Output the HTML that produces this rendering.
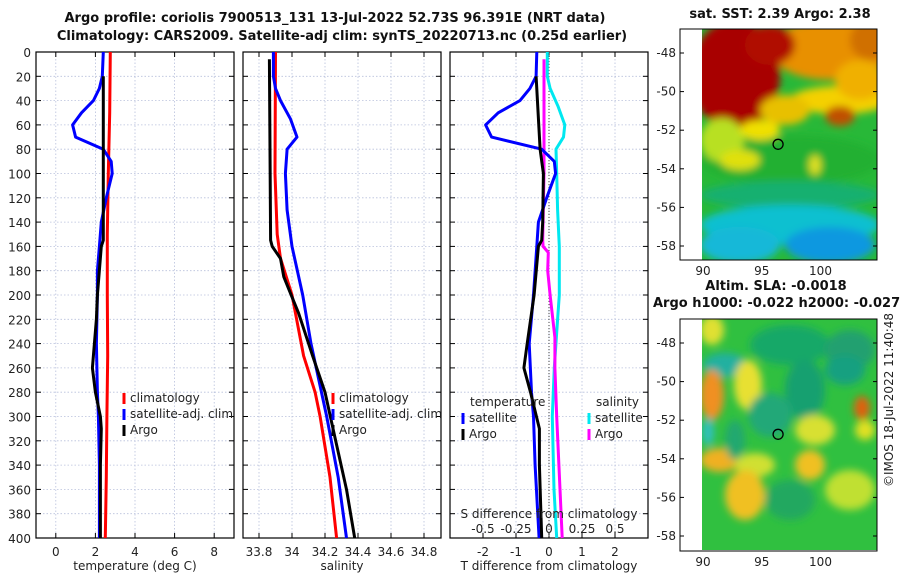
<!DOCTYPE html>
<html><head><meta charset="utf-8"><style>
body{margin:0;background:#fff}
svg{display:block;font-family:"DejaVu Sans","Liberation Sans",sans-serif}
.t{font-size:12px;fill:#222}
.b{font-size:13px;font-weight:bold;fill:#111}
</style></head><body>
<svg id="c" width="900" height="580" viewBox="0 0 900 580">
<defs>
<filter id="bl" x="-10%" y="-10%" width="120%" height="120%"><feGaussianBlur stdDeviation="4"/></filter>
<clipPath id="cm1"><rect x="702" y="29" width="175" height="231"/></clipPath>
<clipPath id="cm2"><rect x="702" y="319" width="175" height="231"/></clipPath>
</defs>
<text class="b" x="335" y="22" text-anchor="middle">Argo profile: coriolis 7900513_131 13-Jul-2022 52.73S 96.391E (NRT data)</text>
<text class="b" x="342" y="40" text-anchor="middle">Climatology: CARS2009. Satellite-adj clim: synTS_20220713.nc (0.25d earlier)</text>
<text class="b" x="780" y="18" text-anchor="middle">sat. SST: 2.39 Argo: 2.38</text>
<text class="b" x="776" y="290" text-anchor="middle">Altim. SLA: -0.0018</text>
<text class="b" x="653" y="307">Argo h1000: -0.022 h2000: -0.027</text>
<text class="t" transform="translate(893,400) rotate(-90)" text-anchor="middle">©IMOS 18-Jul-2022 11:40:48</text>
<g id="g1"></g>
</svg>
<script>
// ---- data ----
const tempClimDepth=[0,50,100,150,200,250,300,350,400];
const tempClim=[2.75,2.72,2.65,2.6,2.6,2.62,2.58,2.55,2.5];
const tempSatDepth=[0,20,30,40,50,60,70,80,90,100,120,140,160,180,200,240,280,300,340,400];
const tempSat=[2.4,2.35,2.2,1.9,1.3,0.85,1.0,2.4,2.8,2.85,2.55,2.3,2.2,2.1,2.1,2.05,2.1,2.15,2.2,2.2];
const tempArgoDepth=[20,80,100,140,155,160,200,220,240,260,280,300,310,340,400];
const tempArgo=[2.4,2.4,2.4,2.4,2.4,2.3,2.1,2.05,1.95,1.85,2.0,2.25,2.3,2.25,2.25];
const salClimDepth=[0,100,150,170,200,250,280,300,350,400];
const salClim=[33.9,33.897,33.91,33.93,34.0,34.07,34.14,34.17,34.23,34.27];
const salSatDepth=[0,20,30,40,55,70,80,100,130,160,200,240,300,350,400];
const salSat=[33.887,33.887,33.9,33.93,33.99,34.03,33.97,33.96,33.97,34.0,34.065,34.115,34.21,34.28,34.33];
const salArgoDepth=[6,155,160,170,185,195,215,250,280,320,360,400];
const salArgo=[33.863,33.87,33.88,33.93,33.95,33.98,34.04,34.125,34.2,34.265,34.33,34.38];
const dTSatDepth=[0,20,30,40,50,60,70,80,90,100,120,140,160,200,240,280,300,340,400];
const dTSat=[-0.37,-0.39,-0.58,-0.88,-1.54,-1.92,-1.74,-0.22,0.16,0.2,-0.07,-0.32,-0.37,-0.47,-0.6,-0.53,-0.47,-0.42,-0.3];
const dTArgoDepth=[20,80,100,140,155,160,200,240,260,280,310,340,400];
const dTArgo=[-0.39,-0.27,-0.17,-0.19,-0.22,-0.32,-0.45,-0.66,-0.76,-0.56,-0.29,-0.29,-0.22];
const dSSatDepth=[0,20,30,45,60,70,80,100,130,160,200,220,260,300,360,400];
const dSSat=[-0.013,-0.013,0.008,0.07,0.12,0.11,0.053,0.058,0.065,0.078,0.078,0.065,0.04,0.025,0.038,0.058];
const dSArgoDepth=[6,100,155,160,165,180,200,235,260,300,340,400];
const dSArgo=[-0.038,-0.038,-0.048,-0.045,-0.005,-0.01,0.008,0.045,0.045,0.058,0.075,0.1];
const depthTicks=[0,20,40,60,80,100,120,140,160,180,200,220,240,260,280,300,320,340,360,380,400];
const tempTicks=[0,2,4,6,8];
const salTicks=[33.8,34,34.2,34.4,34.6,34.8];
const dTTicks=[-2,-1,0,1,2];
const dSTicks=[-0.5,-0.25,0,0.25,0.5];
const latTicks=[-48,-50,-52,-54,-56,-58];
const lonTicks=[90,95,100];
const argoLon=96.391, argoLat=-52.73;

const NS='http://www.w3.org/2000/svg';
const root=document.getElementById('g1');
function mk(tag,attrs,parent){const e=document.createElementNS(NS,tag);for(const k in attrs)e.setAttribute(k,attrs[k]);(parent||root).appendChild(e);return e;}
const Y0=52,Y1=538;
const yD=d=>Y0+(d/400)*(Y1-Y0);

function panel(name,x0,x1,xmin,xmax,ticks,fmt,xlabel,tickY){
  const g=mk('g',{});
  
  
  const xs=v=>x0+(v-xmin)/(xmax-xmin)*(x1-x0);
  ticks.forEach(v=>{const l=mk('line',{x1:xs(v),x2:xs(v),y1:Y0,y2:Y1,stroke:'#b8c0dc','stroke-width':0.8,'stroke-dasharray':'1.5,2'},g);
    mk('line',{x1:xs(v),x2:xs(v),y1:Y1,y2:Y1-5,stroke:'#000'},g);mk('line',{x1:xs(v),x2:xs(v),y1:Y0,y2:Y0+5,stroke:'#000'},g);
    const t=mk('text',{x:xs(v),y:tickY,'text-anchor':'middle',class:'t'},g);t.textContent=fmt(v);});
  depthTicks.forEach(d=>{const l=mk('line',{x1:x0,x2:x1,y1:yD(d),y2:yD(d),stroke:'#b8c0dc','stroke-width':0.8,'stroke-dasharray':'1.5,2'},g);
    mk('line',{x1:x0,x2:x0+5,y1:yD(d),y2:yD(d),stroke:'#000'},g);mk('line',{x1:x1,x2:x1-5,y1:yD(d),y2:yD(d),stroke:'#000'},g);});
  const r=mk('rect',{x:x0,y:Y0,width:x1-x0,height:Y1-Y0,fill:'none',stroke:'#000','stroke-width':1.2},g);
  
  const xl=mk('text',{x:(x0+x1)/2,y:570,'text-anchor':'middle',class:'t'},g);xl.textContent=xlabel;
  
  return {g,xs};
}
function line(p,depths,vals,color,name,scale){
  const pts=depths.map((d,i)=>p.xs(vals[i]*(scale||1)).toFixed(1)+','+yD(d).toFixed(1)).join(' ');
  const l=mk('polyline',{points:pts,fill:'none',stroke:color,'stroke-width':3,'stroke-linejoin':'round'},p.g);
  
}
function leg(g,x,y,color,label){
  mk('rect',{x:x-1.5,y:y-9,width:3,height:11,fill:color},g);
  const t=mk('text',{x:x+6,y:y,class:'t'},g);t.textContent=label;
  
}
depthTicks.forEach(d=>{const t=mk('text',{x:31,y:yD(d)+5,'text-anchor':'end',class:'t'});t.textContent=d;});

const p1=panel('temperature-panel',36,234,-1,9,tempTicks,v=>v,'temperature (deg C)',556);
line(p1,tempClimDepth,tempClim,'#ff0000','temp-climatology-line');
line(p1,tempSatDepth,tempSat,'#0000ff','temp-satellite-line');
line(p1,tempArgoDepth,tempArgo,'#000000','temp-argo-line');
leg(p1.g,124,402,'#ff0000','climatology');leg(p1.g,124,418,'#0000ff','satellite-adj. clim');leg(p1.g,124,434,'#000','Argo');

const p2=panel('salinity-panel',243,441,33.703,34.903,salTicks,v=>v,'salinity',556);
line(p2,salClimDepth,salClim,'#ff0000','sal-climatology-line');
line(p2,salSatDepth,salSat,'#0000ff','sal-satellite-line');
line(p2,salArgoDepth,salArgo,'#000000','sal-argo-line');
leg(p2.g,333,402,'#ff0000','climatology');leg(p2.g,333,418,'#0000ff','satellite-adj. clim');leg(p2.g,333,434,'#000','Argo');

const p3=panel('difference-panel',450,648,-3,3,dTTicks,v=>v,'T difference from climatology',556);
mk('line',{x1:p3.xs(0),x2:p3.xs(0),y1:Y0,y2:Y1,stroke:'#444','stroke-dasharray':'1,2'},p3.g);
line(p3,dSSatDepth,dSSat,'#00e8f0','dS-satellite-line',4);
line(p3,dSArgoDepth,dSArgo,'#ff00ff','dS-argo-line',4);
line(p3,dTSatDepth,dTSat,'#0000ff','dT-satellite-line');
line(p3,dTArgoDepth,dTArgo,'#000000','dT-argo-line');
{const t=mk('text',{x:470,y:406,class:'t'},p3.g);t.textContent='temperature';
 const s=mk('text',{x:596,y:406,class:'t'},p3.g);s.textContent='salinity';}
leg(p3.g,463,422,'#0000ff','satellite');leg(p3.g,463,438,'#000','Argo');
leg(p3.g,589,422,'#00e8f0','satellite');leg(p3.g,589,438,'#ff00ff','Argo');
{const t=mk('text',{x:549,y:518,'text-anchor':'middle',class:'t'},p3.g);t.textContent='S difference from climatology';
 dSTicks.forEach(v=>{const l=mk('text',{x:p3.xs(v*4),y:533,'text-anchor':'middle',class:'t'},p3.g);l.textContent=String(v);});}

// ---- maps ----
function map(name,top,bot,lat48,lat58,blobs,bg){
  const g=mk('g',{});
  const lx=v=>703+(v-90)*11.75, ly=v=>lat48+(-48-v)/10*(lat58-lat48);
  const clip=mk('g',{'clip-path':'url(#'+(top<100?'cm1':'cm2')+')'},g);
  mk('rect',{x:702,y:top,width:175,height:bot-top,fill:bg},clip);
  const bg2=mk('g',{filter:'url(#bl)'},clip);
  blobs.forEach(b=>mk('ellipse',{cx:b[0],cy:b[1],rx:b[2],ry:b[3],fill:b[4]},bg2));
  mk('rect',{x:680,y:top,width:197,height:bot-top,fill:'none',stroke:'#000'},g);
  latTicks.forEach(v=>{mk('line',{x1:680,x2:684,y1:ly(v),y2:ly(v),stroke:'#000'},g);mk('line',{x1:877,x2:873,y1:ly(v),y2:ly(v),stroke:'#000'},g);
    const t=mk('text',{x:676,y:ly(v)+4,'text-anchor':'end',class:'t'},g);t.textContent=v;});
  lonTicks.forEach(v=>{const t=mk('text',{x:lx(v),y:bot+15,'text-anchor':'middle',class:'t'},g);t.textContent=v;});
  const c=mk('circle',{cx:lx(argoLon),cy:ly(argoLat),r:5,fill:'none',stroke:'#000','stroke-width':1.3},g);
  
}
map('sst-map',29,260,53,246,[
 [830,50,60,30,'#e89000'],[870,40,20,20,'#d07000'],[735,75,45,55,'#a80000'],[770,45,25,20,'#b01000'],
 [840,100,50,14,'#f4d000'],[860,80,25,20,'#f0b000'],[785,110,25,15,'#e8c000'],[840,116,15,10,'#c05000'],
 [790,160,90,25,'#20b030'],[722,140,22,22,'#b8e020'],[740,160,20,10,'#e0e010'],[760,130,20,10,'#f0e000'],
 [790,195,90,14,'#18b070'],[790,225,90,20,'#10c0d0'],[830,245,45,18,'#1098e0'],[740,245,40,18,'#18b8d8'],[815,165,6,10,'#e0e020']
],'#28b838');
map('sla-map',319,551,343,536,[
 [712,330,12,15,'#e0e030'],[725,365,22,12,'#20b0a0'],[748,385,14,25,'#e8e030'],[712,395,12,25,'#f09020'],
 [790,345,40,20,'#18a868'],[805,390,20,30,'#18a070'],[850,350,25,20,'#20a070'],[845,370,20,15,'#18a080'],
 [862,408,8,12,'#e06010'],[865,430,10,10,'#e0e020'],[770,415,22,22,'#20a878'],[815,430,20,15,'#d8e030'],
 [720,460,20,12,'#f0b020'],[755,465,20,12,'#d0e030'],[810,465,15,15,'#f0c020'],[745,495,20,25,'#f0c020'],
 [790,500,25,20,'#20a860'],[850,490,25,20,'#c0e030'],[708,432,6,14,'#30c0c0'],[735,440,10,20,'#20a870']
],'#30c040');
</script>
</body></html>
